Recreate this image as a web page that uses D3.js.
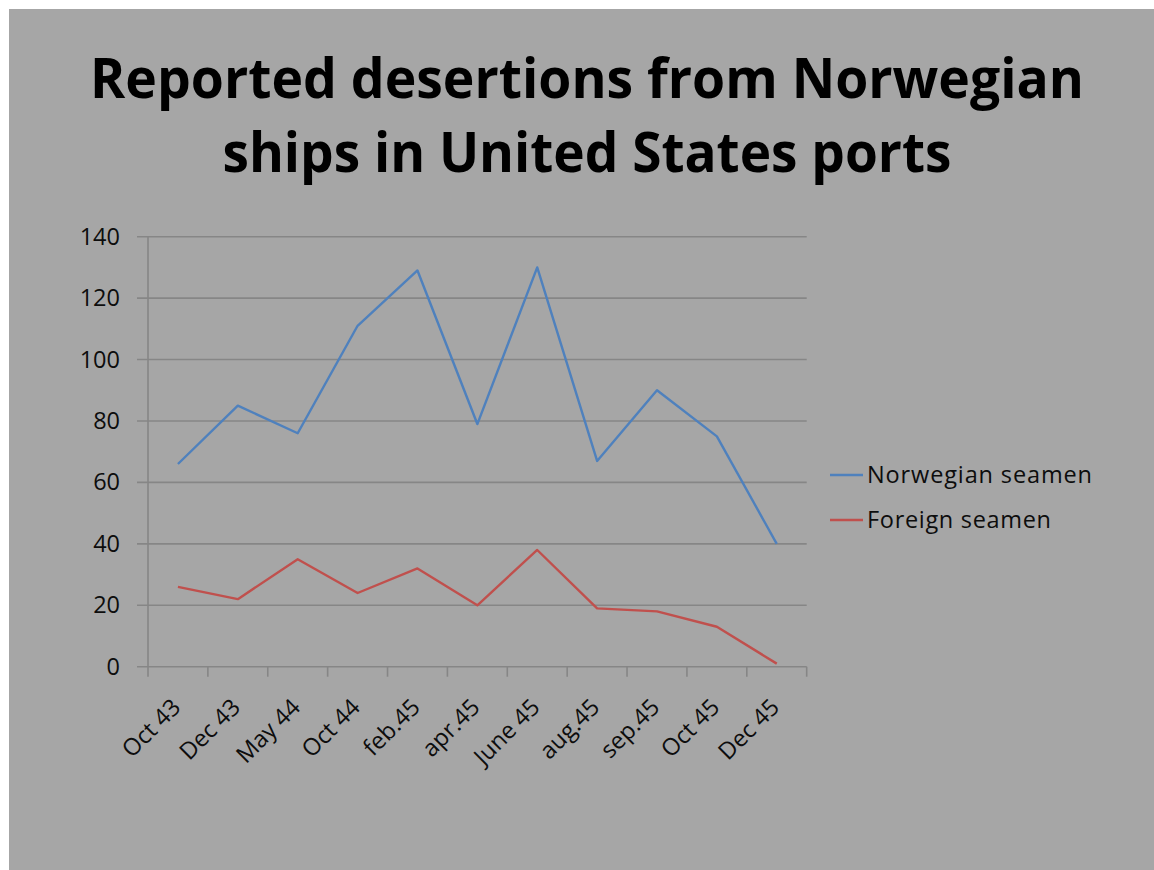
<!DOCTYPE html>
<html>
<head>
<meta charset="utf-8">
<script src="https://cdn.jsdelivr.net/npm/d3@7"></script>
<style>
  html, body { margin: 0; padding: 0; background: #ffffff; }
  svg { display: block; }
</style>
</head>
<body>
<svg id="chart" width="1154" height="870"></svg>
<script>
// ---- data ----
const categories = ["Oct 43", "Dec 43", "May 44", "Oct 44", "feb.45", "apr.45", "June 45", "aug.45", "sep.45", "Oct 45", "Dec 45"];
const norwegianSeamen = [66, 85, 76, 111, 129, 79, 130, 67, 90, 75, 40];
const foreignSeamen = [26, 22, 35, 24, 32, 20, 38, 19, 18, 13, 1];
const seriesNames = ["Norwegian seamen", "Foreign seamen"];
const yTicks = [0, 20, 40, 60, 80, 100, 120, 140];
const titleLines = ["Reported desertions from Norwegian", "ships in United States ports"];

// ---- layout ----
const W = 1154, H = 870;
const plot = { left: 148, right: 806.7, top: 236.7, bottom: 666.7 };
const colors = ["#4f81bd", "#c0504d"];
const textColor = "#0d0d0d";
const gridColor = "#868686";
const font = "'Open Sans', 'DejaVu Sans', sans-serif";

const svg = d3.select("#chart");

svg.append("rect")
  .attr("x", 9).attr("y", 9)
  .attr("width", W - 9).attr("height", H - 9)
  .attr("fill", "#a6a6a6");

// title
const titleTargets = [994, 729];
const titleBaselines = [98, 172];
titleLines.forEach((line, i) => {
  const t = svg.append("text")
    .attr("x", 587)
    .attr("y", titleBaselines[i])
    .attr("text-anchor", "middle")
    .attr("font-family", font)
    .attr("font-weight", "bold")
    .attr("font-size", 56)
    .attr("fill", "#000")
    .text(line);
  const len = t.node().getComputedTextLength();
  if (Math.abs(len - titleTargets[i]) > 4) {
    t.attr("textLength", titleTargets[i]).attr("lengthAdjust", "spacingAndGlyphs");
  }
});

// scales
const x = d3.scaleBand().domain(categories).range([plot.left, plot.right]).padding(0);
const y = d3.scaleLinear().domain([0, 140]).range([plot.bottom, plot.top]);

// gridlines + y ticks
svg.append("g").selectAll("line")
  .data(yTicks)
  .join("line")
  .attr("x1", plot.left - 11)
  .attr("x2", plot.right)
  .attr("y1", d => y(d))
  .attr("y2", d => y(d))
  .attr("stroke", gridColor)
  .attr("stroke-width", 1.6);

// y axis line
svg.append("line")
  .attr("x1", plot.left).attr("x2", plot.left)
  .attr("y1", y(140)).attr("y2", y(0))
  .attr("stroke", gridColor).attr("stroke-width", 1.6);

// y labels
const yAxis = d3.axisLeft(y).tickValues(yTicks).tickSize(0).tickPadding(28);
const gy = svg.append("g").attr("transform", `translate(${plot.left},0)`).call(yAxis);
gy.select(".domain").remove();
gy.selectAll("text")
  .attr("font-family", font)
  .attr("font-size", 23.5)
  .attr("fill", textColor);

// x axis ticks at category boundaries
const boundaries = categories.map(c => x(c)).concat([x(categories[categories.length - 1]) + x.bandwidth()]);
svg.append("g").selectAll("line")
  .data(boundaries)
  .join("line")
  .attr("x1", d => d).attr("x2", d => d)
  .attr("y1", y(0)).attr("y2", y(0) + 10)
  .attr("stroke", gridColor).attr("stroke-width", 1.6);

// x labels
svg.append("g").selectAll("text")
  .data(categories)
  .join("text")
  .attr("transform", d => `translate(${x(d) + x.bandwidth() / 2 + 4},${y(0) + 42}) rotate(-45)`)
  .attr("text-anchor", "end")
  .attr("font-family", font)
  .attr("font-size", 23.5)
  .attr("fill", textColor)
  .text(d => d);

// lines
const lineGen = d3.line()
  .x((d, i) => x(categories[i]) + x.bandwidth() / 2)
  .y(d => y(d));

[norwegianSeamen, foreignSeamen].forEach((s, i) => {
  svg.append("path")
    .datum(s)
    .attr("d", lineGen)
    .attr("fill", "none")
    .attr("stroke", colors[i])
    .attr("stroke-width", 2.4)
    .attr("stroke-linejoin", "round");
});

// legend
const legendY = [475, 520];
const legendWidths = [225, 184];
seriesNames.forEach((name, i) => {
  svg.append("line")
    .attr("x1", 830).attr("x2", 863)
    .attr("y1", legendY[i]).attr("y2", legendY[i])
    .attr("stroke", colors[i]).attr("stroke-width", 2.4);
  svg.append("text")
    .attr("x", 867)
    .attr("y", legendY[i])
    .attr("dy", "0.35em")
    .attr("font-family", font)
    .attr("font-size", 23.5)
    .attr("fill", textColor)
    .attr("textLength", legendWidths[i])
    .attr("lengthAdjust", "spacing")
    .text(name);
});
</script>
</body>
</html>
